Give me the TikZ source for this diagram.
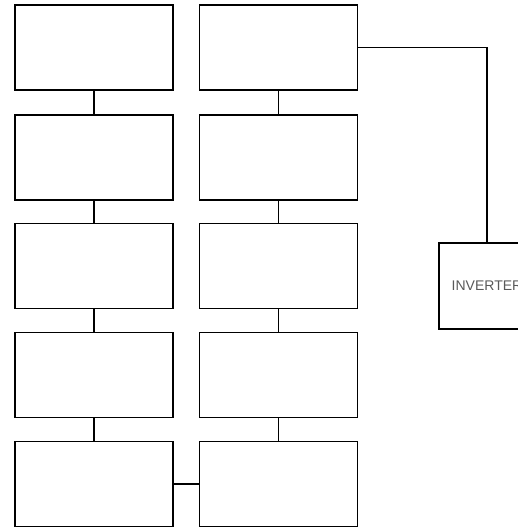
\documentclass[tikz,border=0pt]{standalone}
\usepackage{fontspec}
\setsansfont{Liberation Sans}
\usetikzlibrary{positioning}

\begin{document}
\begin{tikzpicture}[
  x=1pt, y=-1pt,
  panel/.style={rectangle, draw=black, line width=1.3pt, minimum width=158pt, minimum height=85pt, inner sep=0pt},
  wire/.style={draw=black, line width=1.2pt}
]
\useasboundingbox (0,0) rectangle (518,527);
\clip (0,0) rectangle (518,527);
\foreach \r/\y in {1/47.5,2/157.5,3/266,4/375,5/484}{
  \node[panel] (l\r) at (94,\y) {};
  \node[panel] (r\r) at (278.5,\y) {};
}
\node[panel, minimum width=96pt, minimum height=86pt, font=\sffamily\fontsize{14}{16}\selectfont, text=black!65] (inv) at (487,286) {INVERTER};
\foreach \a/\b in {1/2,2/3,3/4,4/5}{\draw[wire] (l\a) -- (l\b); \draw[wire] (r\a) -- (r\b);}
\draw[wire] (l5) -- (r5);
\draw[wire] (r1.east) -| (inv.north);
\end{tikzpicture}
\end{document}
